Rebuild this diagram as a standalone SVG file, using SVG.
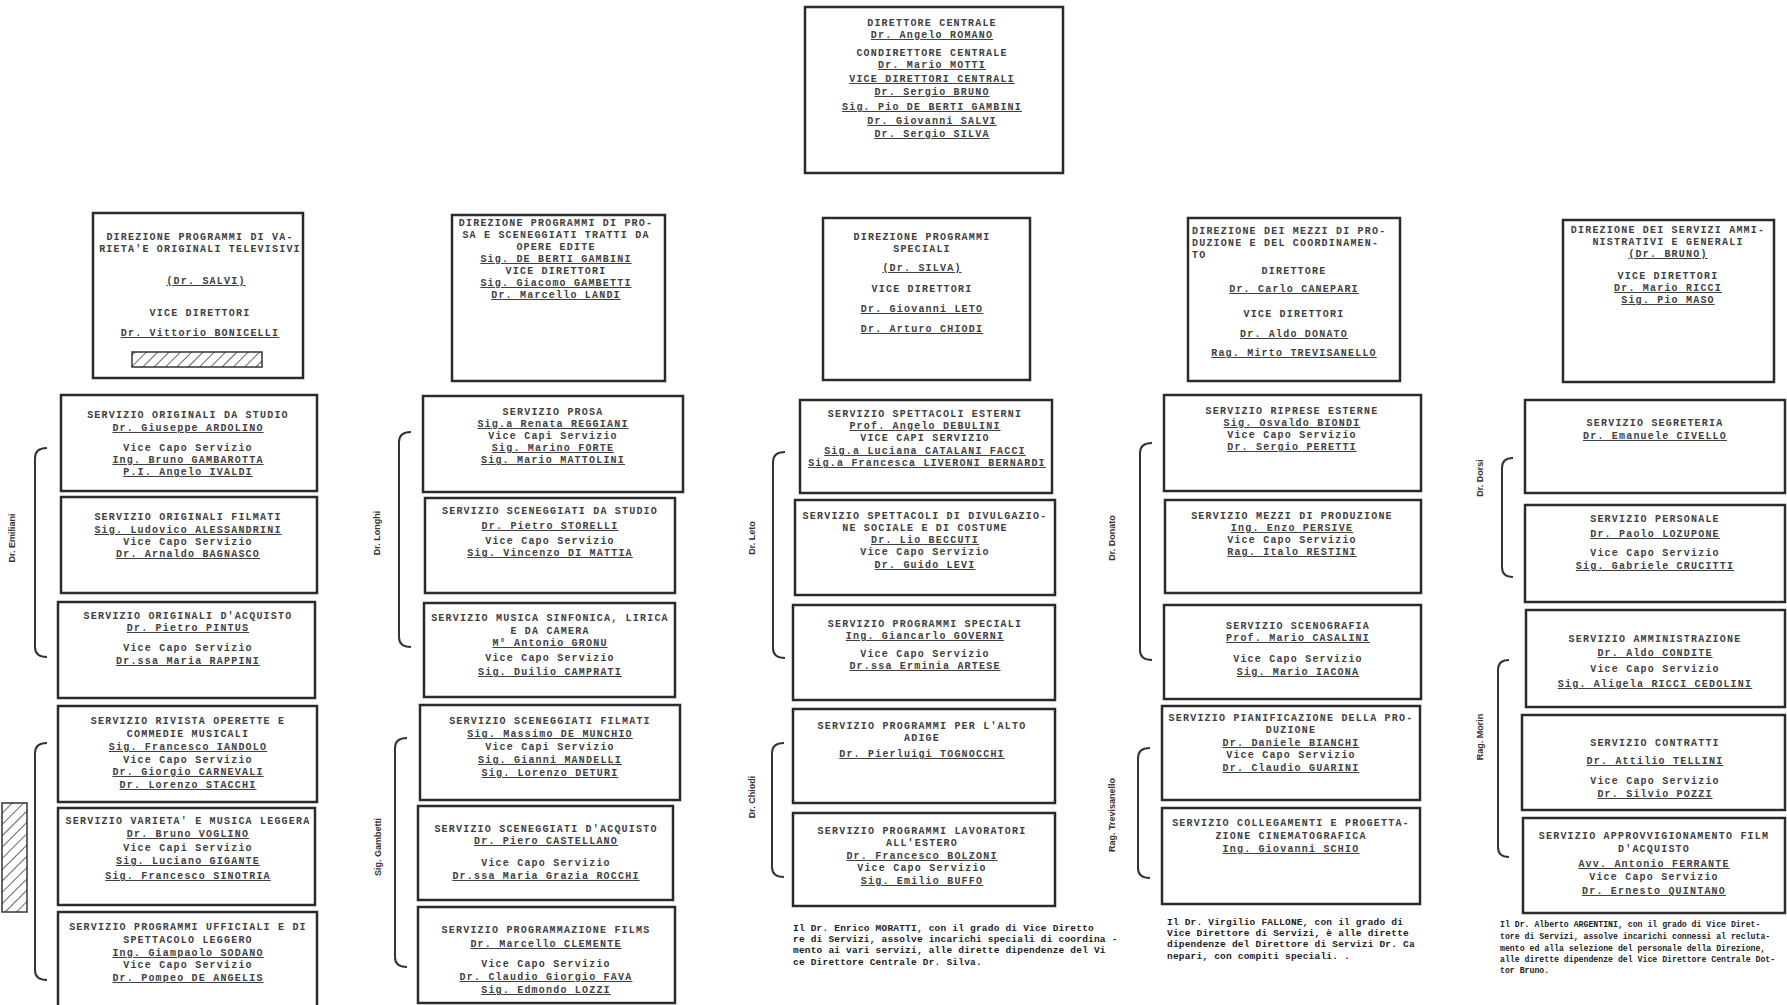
<svg xmlns="http://www.w3.org/2000/svg" width="1787" height="1005" viewBox="0 0 1787 1005">
<defs>
<style>
.t{font-family:"Liberation Mono",monospace;font-size:10px;letter-spacing:1.2px;font-weight:bold;fill:#404040;text-anchor:middle}
.l{text-anchor:start}
.u{text-decoration:underline}
.box{fill:none;stroke:#2b2b2b;stroke-width:2.5}
.br{fill:none;stroke:#333;stroke-width:2}
.lbl{font-family:"Liberation Sans",sans-serif;font-size:9px;font-weight:bold;fill:#333;text-anchor:middle}
.fn{font-family:"Liberation Mono",monospace;font-size:9.5px;letter-spacing:0.2px;font-weight:bold;fill:#222}
.fn5{font-family:"Liberation Mono",monospace;font-size:8.2px;font-weight:bold;fill:#222}
</style>
<pattern id="hatch" width="8" height="8" patternUnits="userSpaceOnUse" patternTransform="rotate(45)">
<line x1="0" y1="0" x2="0" y2="8" stroke="#333" stroke-width="1.5"/>
</pattern>
</defs>
<rect width="1787" height="1005" fill="#fff"/>

<g id="connectors">
<path class="br" d="M47,448 Q35,448 35,458 V647 Q35,657 47,657"/>
<path class="br" d="M47,743 Q35,743 35,753 V970 Q35,980 47,980"/>
<path class="br" d="M411,432 Q399,432 399,442 V637 Q399,647 411,647"/>
<path class="br" d="M407,738 Q395,738 395,748 V957 Q395,967 407,967"/>
<path class="br" d="M785,452 Q773,452 773,462 V648 Q773,658 785,658"/>
<path class="br" d="M784,743 Q772,743 772,753 V867 Q772,877 784,877"/>
<path class="br" d="M1152,443 Q1140,443 1140,453 V650 Q1140,660 1152,660"/>
<path class="br" d="M1150,748 Q1138,748 1138,758 V868 Q1138,878 1150,878"/>
<path class="br" d="M1513,458 Q1502,458 1502,468 V567 Q1502,577 1513,577"/>
<path class="br" d="M1509,660 Q1498,660 1498,670 V847 Q1498,857 1509,857"/>
</g>

<g id="bracket-labels">
<text class="lbl" transform="translate(15,538) rotate(-90)">Dr. Emiliani</text>
<text class="lbl" transform="translate(380,533) rotate(-90)">Dr. Longhi</text>
<text class="lbl" transform="translate(381,847) rotate(-90)">Sig. Gambetti</text>
<text class="lbl" transform="translate(755,538) rotate(-90)">Dr. Leto</text>
<text class="lbl" transform="translate(755,797) rotate(-90)">Dr. Chiodi</text>
<text class="lbl" transform="translate(1115,538) rotate(-90)">Dr. Donato</text>
<text class="lbl" transform="translate(1115,815) rotate(-90)">Rag. Trevisanello</text>
<text class="lbl" transform="translate(1483,478) rotate(-90)">Dr. Dorsi</text>
<text class="lbl" transform="translate(1483,737) rotate(-90)">Rag. Morin</text>
</g>
<g id="signature-mark">
<rect x="2" y="803" width="25" height="109" fill="url(#hatch)" stroke="#333" stroke-width="1.5"/>
</g>

<g id="direttore-centrale">
<rect class="box" x="805" y="7" width="258" height="166"/>
<text class="t" x="932" y="26">DIRETTORE CENTRALE</text>
<text class="t u" x="932" y="38">Dr. Angelo ROMANO</text>
<text class="t" x="932" y="56">CONDIRETTORE CENTRALE</text>
<text class="t u" x="932" y="68">Dr. Mario MOTTI</text>
<text class="t u" x="932" y="82">VICE DIRETTORI CENTRALI</text>
<text class="t u" x="932" y="95">Dr. Sergio BRUNO</text>
<text class="t u" x="932" y="110">Sig. Pio DE BERTI GAMBINI</text>
<text class="t u" x="932" y="124">Dr. Giovanni SALVI</text>
<text class="t u" x="932" y="137">Dr. Sergio SILVA</text>
</g>

<!-- Column 1 -->
<g id="dir-varieta">
<rect class="box" x="93" y="213" width="210" height="165"/>
<text class="t" x="200" y="240">DIREZIONE PROGRAMMI DI VA-</text>
<text class="t" x="200" y="252">RIETA'E ORIGINALI TELEVISIVI</text>
<text class="t u" x="206" y="284">(Dr. SALVI)</text>
<text class="t" x="200" y="316">VICE DIRETTORI</text>
<text class="t u" x="200" y="336">Dr. Vittorio BONICELLI</text>
<rect x="132" y="352" width="130" height="15" fill="url(#hatch)" stroke="#333" stroke-width="1.5"/>
</g>
<g id="srv-originali-studio">
<rect class="box" x="61" y="395" width="256" height="96"/>
<text class="t" x="188" y="418">SERVIZIO ORIGINALI DA STUDIO</text>
<text class="t u" x="188" y="431">Dr. Giuseppe ARDOLINO</text>
<text class="t" x="188" y="451">Vice Capo Servizio</text>
<text class="t u" x="188" y="463">Ing. Bruno GAMBAROTTA</text>
<text class="t u" x="188" y="475">P.I. Angelo IVALDI</text>
</g>
<g id="srv-originali-filmati">
<rect class="box" x="61" y="497" width="256" height="96"/>
<text class="t" x="188" y="520">SERVIZIO ORIGINALI FILMATI</text>
<text class="t u" x="188" y="533">Sig. Ludovico ALESSANDRINI</text>
<text class="t" x="188" y="545">Vice Capo Servizio</text>
<text class="t u" x="188" y="557">Dr. Arnaldo BAGNASCO</text>
</g>
<g id="srv-originali-acquisto">
<rect class="box" x="58" y="602" width="257" height="96"/>
<text class="t" x="188" y="619">SERVIZIO ORIGINALI D'ACQUISTO</text>
<text class="t u" x="188" y="631">Dr. Pietro PINTUS</text>
<text class="t" x="188" y="651">Vice Capo Servizio</text>
<text class="t u" x="188" y="664">Dr.ssa Maria RAPPINI</text>
</g>
<g id="srv-rivista">
<rect class="box" x="58" y="706" width="259" height="96"/>
<text class="t" x="188" y="724">SERVIZIO RIVISTA  OPERETTE E</text>
<text class="t" x="188" y="737">COMMEDIE MUSICALI</text>
<text class="t u" x="188" y="750">Sig. Francesco IANDOLO</text>
<text class="t" x="188" y="763">Vice Capo Servizio</text>
<text class="t u" x="188" y="775">Dr. Giorgio CARNEVALI</text>
<text class="t u" x="188" y="788">Dr. Lorenzo STACCHI</text>
</g>
<g id="srv-varieta-musica">
<rect class="box" x="58" y="808" width="257" height="97"/>
<text class="t" x="188" y="824">SERVIZIO VARIETA' E MUSICA LEGGERA</text>
<text class="t u" x="188" y="837">Dr. Bruno VOGLINO</text>
<text class="t" x="188" y="851">Vice Capi Servizio</text>
<text class="t u" x="188" y="864">Sig. Luciano GIGANTE</text>
<text class="t u" x="188" y="879">Sig. Francesco SINOTRIA</text>
</g>
<g id="srv-ufficiali">
<rect class="box" x="58" y="912" width="259" height="100"/>
<text class="t" x="188" y="930">SERVIZIO PROGRAMMI UFFICIALI E DI</text>
<text class="t" x="188" y="943">SPETTACOLO LEGGERO</text>
<text class="t u" x="188" y="956">Ing. Giampaolo SODANO</text>
<text class="t" x="188" y="968">Vice Capo Servizio</text>
<text class="t u" x="188" y="981">Dr. Pompeo DE ANGELIS</text>
</g>

<!-- Column 2 -->
<g id="dir-prosa">
<rect class="box" x="452" y="215" width="213" height="166"/>
<text class="t" x="556" y="226">DIREZIONE PROGRAMMI DI PRO-</text>
<text class="t" x="556" y="238">SA E SCENEGGIATI TRATTI  DA</text>
<text class="t" x="556" y="250">OPERE EDITE</text>
<text class="t u" x="556" y="262">Sig. DE BERTI GAMBINI</text>
<text class="t" x="556" y="274">VICE DIRETTORI</text>
<text class="t u" x="556" y="286">Sig. Giacomo GAMBETTI</text>
<text class="t u" x="556" y="298">Dr. Marcello LANDI</text>
</g>
<g id="srv-prosa">
<rect class="box" x="423" y="396" width="260" height="96"/>
<text class="t" x="553" y="415">SERVIZIO PROSA</text>
<text class="t u" x="553" y="427">Sig.a Renata REGGIANI</text>
<text class="t" x="553" y="439">Vice Capi Servizio</text>
<text class="t u" x="553" y="451">Sig. Marino FORTE</text>
<text class="t u" x="553" y="463">Sig. Mario MATTOLINI</text>
</g>
<g id="srv-sceneggiati-studio">
<rect class="box" x="425" y="498" width="250" height="95"/>
<text class="t" x="550" y="514">SERVIZIO SCENEGGIATI DA STUDIO</text>
<text class="t u" x="550" y="529">Dr. Pietro STORELLI</text>
<text class="t" x="550" y="544">Vice Capo Servizio</text>
<text class="t u" x="550" y="556">Sig. Vincenzo DI MATTIA</text>
</g>
<g id="srv-musica-sinfonica">
<rect class="box" x="424" y="603" width="251" height="94"/>
<text class="t" x="550" y="621">SERVIZIO MUSICA SINFONICA, LIRICA</text>
<text class="t" x="550" y="634">E DA CAMERA</text>
<text class="t u" x="550" y="646">M° Antonio GRONU</text>
<text class="t" x="550" y="661">Vice Capo Servizio</text>
<text class="t u" x="550" y="675">Sig. Duilio CAMPRATI</text>
</g>
<g id="srv-sceneggiati-filmati">
<rect class="box" x="420" y="705" width="260" height="95"/>
<text class="t" x="550" y="724">SERVIZIO SCENEGGIATI FILMATI</text>
<text class="t u" x="550" y="737">Sig. Massimo DE MUNCHIO</text>
<text class="t" x="550" y="750">Vice Capi Servizio</text>
<text class="t u" x="550" y="763">Sig. Gianni MANDELLI</text>
<text class="t u" x="550" y="776">Sig. Lorenzo DETURI</text>
</g>
<g id="srv-sceneggiati-acquisto">
<rect class="box" x="418" y="806" width="255" height="94"/>
<text class="t" x="546" y="832">SERVIZIO SCENEGGIATI D'ACQUISTO</text>
<text class="t u" x="546" y="844">Dr. Piero CASTELLANO</text>
<text class="t" x="546" y="866">Vice Capo Servizio</text>
<text class="t u" x="546" y="879">Dr.ssa Maria Grazia ROCCHI</text>
</g>
<g id="srv-programmazione-films">
<rect class="box" x="418" y="907" width="257" height="96"/>
<text class="t" x="546" y="933">SERVIZIO PROGRAMMAZIONE FILMS</text>
<text class="t u" x="546" y="947">Dr. Marcello CLEMENTE</text>
<text class="t" x="546" y="967">Vice Capo Servizio</text>
<text class="t u" x="546" y="980">Dr. Claudio Giorgio FAVA</text>
<text class="t u" x="546" y="993">Sig. Edmondo LOZZI</text>
</g>

<!-- Column 3 -->
<g id="dir-speciali">
<rect class="box" x="823" y="218" width="207" height="162"/>
<text class="t" x="922" y="240">DIREZIONE  PROGRAMMI</text>
<text class="t" x="922" y="252">SPECIALI</text>
<text class="t u" x="922" y="271">(Dr. SILVA)</text>
<text class="t" x="922" y="292">VICE DIRETTORI</text>
<text class="t u" x="922" y="312">Dr. Giovanni LETO</text>
<text class="t u" x="922" y="332">Dr. Arturo CHIODI</text>
</g>
<g id="srv-spettacoli-esterni">
<rect class="box" x="800" y="400" width="252" height="93"/>
<text class="t" x="925" y="417">SERVIZIO SPETTACOLI ESTERNI</text>
<text class="t u" x="925" y="429">Prof. Angelo DEBULINI</text>
<text class="t" x="925" y="441">VICE CAPI SERVIZIO</text>
<text class="t u" x="925" y="454">Sig.a Luciana CATALANI  FACCI</text>
<text class="t u" x="927" y="466">Sig.a Francesca LIVERONI BERNARDI</text>
</g>
<g id="srv-divulgazione">
<rect class="box" x="795" y="500" width="260" height="95"/>
<text class="t" x="925" y="519">SERVIZIO SPETTACOLI DI DIVULGAZIO-</text>
<text class="t" x="925" y="531">NE SOCIALE E DI COSTUME</text>
<text class="t u" x="925" y="543">Dr. Lio BECCUTI</text>
<text class="t" x="925" y="555">Vice Capo Servizio</text>
<text class="t u" x="925" y="568">Dr. Guido LEVI</text>
</g>
<g id="srv-programmi-speciali">
<rect class="box" x="793" y="605" width="262" height="95"/>
<text class="t" x="925" y="627">SERVIZIO PROGRAMMI SPECIALI</text>
<text class="t u" x="925" y="639">Ing. Giancarlo GOVERNI</text>
<text class="t" x="925" y="657">Vice Capo Servizio</text>
<text class="t u" x="925" y="669">Dr.ssa Erminia ARTESE</text>
</g>
<g id="srv-alto-adige">
<rect class="box" x="793" y="709" width="262" height="94"/>
<text class="t" x="922" y="729">SERVIZIO PROGRAMMI PER L'ALTO</text>
<text class="t" x="922" y="741">ADIGE</text>
<text class="t u" x="922" y="757">Dr. Pierluigi TOGNOCCHI</text>
</g>
<g id="srv-lavoratori-estero">
<rect class="box" x="793" y="813" width="262" height="93"/>
<text class="t" x="922" y="834">SERVIZIO PROGRAMMI LAVORATORI</text>
<text class="t" x="922" y="846">ALL'ESTERO</text>
<text class="t u" x="922" y="859">Dr. Francesco BOLZONI</text>
<text class="t" x="922" y="871">Vice Capo Servizio</text>
<text class="t u" x="922" y="884">Sig. Emilio BUFFO</text>
</g>
<g id="note-moratti">
<text class="fn" x="793" y="931">Il Dr. Enrico MORATTI, con il grado di Vice Diretto</text>
<text class="fn" x="793" y="942">re di Servizi, assolve incarichi speciali di coordina -</text>
<text class="fn" x="793" y="953">mento ai vari servizi, alle dirette dipendenze del  Vi</text>
<text class="fn" x="793" y="965">ce Direttore Centrale Dr. Silva.</text>
</g>

<!-- Column 4 -->
<g id="dir-mezzi">
<rect class="box" x="1188" y="218" width="212" height="163"/>
<text class="t l" x="1192" y="234">DIREZIONE DEI MEZZI DI PRO-</text>
<text class="t l" x="1192" y="246">DUZIONE E DEL COORDINAMEN-</text>
<text class="t l" x="1192" y="258">TO</text>
<text class="t" x="1294" y="274">DIRETTORE</text>
<text class="t u" x="1294" y="292">Dr. Carlo CANEPARI</text>
<text class="t" x="1294" y="317">VICE DIRETTORI</text>
<text class="t u" x="1294" y="337">Dr. Aldo DONATO</text>
<text class="t u" x="1294" y="356">Rag. Mirto TREVISANELLO</text>
</g>
<g id="srv-riprese-esterne">
<rect class="box" x="1164" y="395" width="257" height="96"/>
<text class="t" x="1292" y="414">SERVIZIO RIPRESE ESTERNE</text>
<text class="t u" x="1292" y="426">Sig. Osvaldo BIONDI</text>
<text class="t" x="1292" y="438">Vice Capo Servizio</text>
<text class="t u" x="1292" y="450">Dr. Sergio PERETTI</text>
</g>
<g id="srv-mezzi-produzione">
<rect class="box" x="1165" y="500" width="256" height="93"/>
<text class="t" x="1292" y="519">SERVIZIO MEZZI DI PRODUZIONE</text>
<text class="t u" x="1292" y="531">Ing. Enzo PERSIVE</text>
<text class="t" x="1292" y="543">Vice Capo Servizio</text>
<text class="t u" x="1292" y="555">Rag. Italo RESTINI</text>
</g>
<g id="srv-scenografia">
<rect class="box" x="1164" y="605" width="257" height="94"/>
<text class="t" x="1298" y="629">SERVIZIO SCENOGRAFIA</text>
<text class="t u" x="1298" y="641">Prof. Mario CASALINI</text>
<text class="t" x="1298" y="662">Vice Capo Servizio</text>
<text class="t u" x="1298" y="675">Sig. Mario IACONA</text>
</g>
<g id="srv-pianificazione">
<rect class="box" x="1162" y="706" width="258" height="94"/>
<text class="t" x="1291" y="721">SERVIZIO PIANIFICAZIONE DELLA PRO-</text>
<text class="t" x="1291" y="733">DUZIONE</text>
<text class="t u" x="1291" y="746">Dr. Daniele BIANCHI</text>
<text class="t" x="1291" y="758">Vice Capo Servizio</text>
<text class="t u" x="1291" y="771">Dr. Claudio GUARINI</text>
</g>
<g id="srv-collegamenti">
<rect class="box" x="1162" y="808" width="258" height="96"/>
<text class="t" x="1291" y="826">SERVIZIO COLLEGAMENTI E PROGETTA-</text>
<text class="t" x="1291" y="839">ZIONE CINEMATOGRAFICA</text>
<text class="t u" x="1291" y="852">Ing. Giovanni SCHIO</text>
</g>
<g id="note-fallone">
<text class="fn" x="1167" y="925">Il Dr. Virgilio FALLONE, con il grado di</text>
<text class="fn" x="1167" y="936">Vice Direttore di Servizi, è alle  dirette</text>
<text class="fn" x="1167" y="947">dipendenze del Direttore di Servizi Dr. Ca</text>
<text class="fn" x="1167" y="959">nepari, con compiti speciali.   .</text>
</g>

<!-- Column 5 -->
<g id="dir-amministrativi">
<rect class="box" x="1563" y="220" width="211" height="162"/>
<text class="t" x="1668" y="233">DIREZIONE DEI SERVIZI AMMI-</text>
<text class="t" x="1668" y="245">NISTRATIVI E GENERALI</text>
<text class="t u" x="1668" y="257">(Dr. BRUNO)</text>
<text class="t" x="1668" y="279">VICE DIRETTORI</text>
<text class="t u" x="1668" y="291">Dr. Mario RICCI</text>
<text class="t u" x="1668" y="303">Sig. Pio MASO</text>
</g>
<g id="srv-segreteria">
<rect class="box" x="1525" y="400" width="260" height="93"/>
<text class="t" x="1655" y="426">SERVIZIO SEGRETERIA</text>
<text class="t u" x="1655" y="439">Dr. Emanuele CIVELLO</text>
</g>
<g id="srv-personale">
<rect class="box" x="1525" y="505" width="260" height="97"/>
<text class="t" x="1655" y="522">SERVIZIO PERSONALE</text>
<text class="t u" x="1655" y="537">Dr. Paolo LOZUPONE</text>
<text class="t" x="1655" y="556">Vice Capo Servizio</text>
<text class="t u" x="1655" y="569">Sig. Gabriele CRUCITTI</text>
</g>
<g id="srv-amministrazione">
<rect class="box" x="1526" y="610" width="259" height="97"/>
<text class="t" x="1655" y="642">SERVIZIO AMMINISTRAZIONE</text>
<text class="t u" x="1655" y="656">Dr. Aldo CONDITE</text>
<text class="t" x="1655" y="672">Vice Capo Servizio</text>
<text class="t u" x="1655" y="687">Sig. Aligela RICCI CEDOLINI</text>
</g>
<g id="srv-contratti">
<rect class="box" x="1522" y="715" width="263" height="95"/>
<text class="t" x="1655" y="746">SERVIZIO CONTRATTI</text>
<text class="t u" x="1655" y="764">Dr. Attilio TELLINI</text>
<text class="t" x="1655" y="784">Vice Capo Servizio</text>
<text class="t u" x="1655" y="797">Dr. Silvio POZZI</text>
</g>
<g id="srv-approvvigionamento">
<rect class="box" x="1523" y="818" width="262" height="95"/>
<text class="t" x="1654" y="839">SERVIZIO APPROVVIGIONAMENTO FILM</text>
<text class="t" x="1654" y="852">D'ACQUISTO</text>
<text class="t u" x="1654" y="867">Avv. Antonio FERRANTE</text>
<text class="t" x="1654" y="880">Vice Capo Servizio</text>
<text class="t u" x="1654" y="894">Dr. Ernesto  QUINTANO</text>
</g>
<g id="note-argentini">
<text class="fn5" x="1500" y="927">Il Dr. Alberto ARGENTINI, con il grado di Vice Diret-</text>
<text class="fn5" x="1500" y="939">tore di Servizi, assolve incarichi connessi al recluta-</text>
<text class="fn5" x="1500" y="951">mento ed alla selezione del personale della Direzione,</text>
<text class="fn5" x="1500" y="962">alle dirette dipendenze del Vice Direttore Centrale Dot-</text>
<text class="fn5" x="1500" y="973">tor Bruno.</text>
</g>
</svg>
